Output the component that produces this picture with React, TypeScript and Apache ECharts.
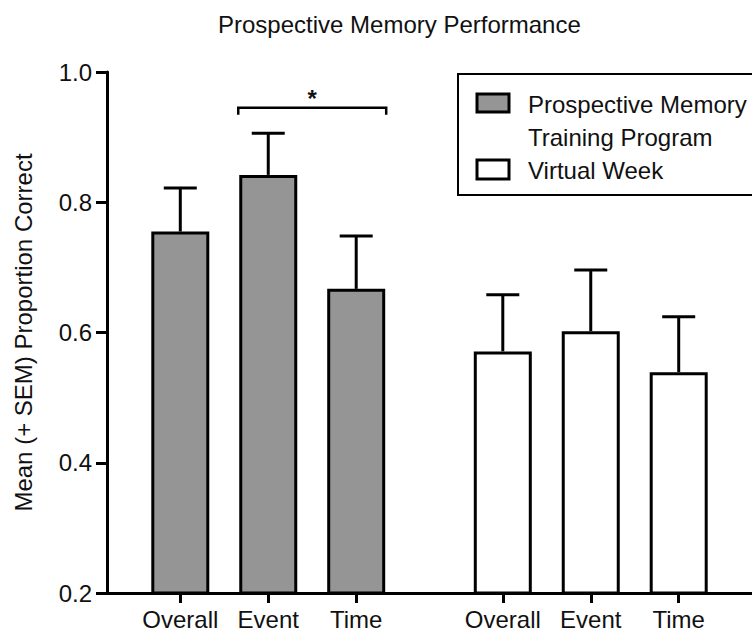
import React, { useEffect, useRef } from 'react';
import * as echarts from 'echarts';

// ---- data ----
const conditionLabels = ['Overall', 'Event', 'Time'];
const trainingMeans = [0.755, 0.842, 0.667];
const trainingSEM = [0.067, 0.064, 0.081];
const virtualMeans = [0.571, 0.602, 0.539];
const virtualSEM = [0.087, 0.094, 0.085];
const seriesNames = ['Prospective Memory\nTraining Program', 'Virtual Week'];
const yMin = 0.2;
const yMax = 1.0;
const yStep = 0.2;
const titleText = 'Prospective Memory Performance';
const yAxisTitle = 'Mean (+ SEM) Proportion Correct';
// significance bracket: between Event and Time of the training program
const sigFrom = 1;
const sigTo = 2;
const sigLevel = 0.945;
const sigMark = '*';

// ---- layout (category slots on the x axis) ----
const slotCount = 22;
const trainingSlots = [2, 5, 8];
const virtualSlots = [13, 16, 19];

const FONT = '"Liberation Sans", Arial, Helvetica, sans-serif';
const BAR_W = 58;
const GRAY = '#959595';

export default function App() {
  const ref = useRef<HTMLDivElement>(null);

  useEffect(() => {
    if (!ref.current) return;
    const chart = echarts.init(ref.current, null, { renderer: 'svg' });

    const categories: string[] = Array.from({ length: slotCount }, () => '');
    trainingSlots.forEach((s, i) => (categories[s] = conditionLabels[i]));
    virtualSlots.forEach((s, i) => (categories[s] = conditionLabels[i]));

    const trainingData: (number | null)[] = Array.from({ length: slotCount }, () => null);
    trainingSlots.forEach((s, i) => (trainingData[s] = trainingMeans[i]));
    const virtualData: (number | null)[] = Array.from({ length: slotCount }, () => null);
    virtualSlots.forEach((s, i) => (virtualData[s] = virtualMeans[i]));

    const errData = [
      ...trainingSlots.map((s, i) => [s, trainingMeans[i], trainingMeans[i] + trainingSEM[i]]),
      ...virtualSlots.map((s, i) => [s, virtualMeans[i], virtualMeans[i] + virtualSEM[i]]),
    ];

    const bracketData = [[trainingSlots[sigFrom], trainingSlots[sigTo], sigLevel]];

    const legendLines0 = seriesNames[0].split('\n');
    const legendText = (text: string, y: number) => ({
      type: 'text',
      x: 528,
      y,
      style: {
        text,
        fontFamily: FONT,
        fontSize: 24,
        fill: '#111',
        verticalAlign: 'middle',
      },
      z: 11,
    });

    const option: any = {
      animation: false,
      backgroundColor: '#fff',
      textStyle: { fontFamily: FONT },
      title: {
        text: titleText,
        left: 213,
        top: 7,
        textStyle: { fontFamily: FONT, fontSize: 24, fontWeight: 'normal', color: '#111' },
      },
      grid: { left: 107, right: -8, top: 72, bottom: 44, containLabel: false },
      xAxis: {
        type: 'category',
        data: categories,
        boundaryGap: true,
        axisLine: { show: true, lineStyle: { color: '#000', width: 3 } },
        axisTick: {
          show: true,
          alignWithLabel: true,
          length: 10,
          interval: (_i: number, v: string) => v !== '',
          lineStyle: { color: '#000', width: 3 },
        },
        axisLabel: {
          interval: 0,
          margin: 14,
          fontFamily: FONT,
          fontSize: 24,
          color: '#111',
        },
        splitLine: { show: false },
      },
      yAxis: {
        type: 'value',
        min: yMin,
        max: yMax,
        interval: yStep,
        name: yAxisTitle,
        nameLocation: 'middle',
        nameRotate: 90,
        nameGap: 72,
        nameTextStyle: { fontFamily: FONT, fontSize: 24, color: '#111' },
        axisLine: { show: true, lineStyle: { color: '#000', width: 3 } },
        axisTick: { show: true, inside: false, length: 11, lineStyle: { color: '#000', width: 3 } },
        axisLabel: {
          margin: 15,
          fontFamily: FONT,
          fontSize: 24,
          color: '#111',
          formatter: (v: number) => v.toFixed(1),
        },
        splitLine: { show: false },
      },
      series: [
        {
          name: seriesNames[0],
          type: 'bar',
          data: trainingData,
          barWidth: BAR_W,
          barGap: '-100%',
          itemStyle: { color: GRAY, borderColor: '#000', borderWidth: 3 },
          z: 2,
        },
        {
          name: seriesNames[1],
          type: 'bar',
          data: virtualData,
          barWidth: BAR_W,
          barGap: '-100%',
          itemStyle: { color: '#fff', borderColor: '#000', borderWidth: 3 },
          z: 2,
        },
        {
          type: 'custom',
          name: 'SEM',
          data: errData,
          encode: { x: 0, y: 2 },
          clip: false,
          z: 1,
          renderItem: (_p: any, api: any) => {
            const base = api.coord([api.value(0), api.value(1)]);
            const top = api.coord([api.value(0), api.value(2)]);
            const half = 16.5;
            return {
              type: 'group',
              children: [
                {
                  type: 'line',
                  shape: { x1: base[0], y1: base[1], x2: top[0], y2: top[1] },
                  style: { stroke: '#000', lineWidth: 3 },
                },
                {
                  type: 'line',
                  shape: { x1: top[0] - half, y1: top[1], x2: top[0] + half, y2: top[1] },
                  style: { stroke: '#000', lineWidth: 3 },
                },
              ],
            };
          },
        },
        {
          type: 'custom',
          name: 'significance',
          data: bracketData,
          encode: { x: 0, y: 2 },
          clip: false,
          renderItem: (_p: any, api: any) => {
            const a = api.coord([api.value(0), api.value(2)]);
            const b = api.coord([api.value(1), api.value(2)]);
            const half = BAR_W / 2 + 1;
            const drop = 7;
            const x1 = a[0] - half;
            const x2 = b[0] + half;
            return {
              type: 'group',
              children: [
                {
                  type: 'polyline',
                  shape: {
                    points: [
                      [x1, a[1] + drop],
                      [x1, a[1]],
                      [x2, b[1]],
                      [x2, b[1] + drop],
                    ],
                  },
                  style: { stroke: '#000', lineWidth: 2.5, fill: 'none' },
                },
                {
                  type: 'text',
                  x: (x1 + x2) / 2,
                  y: a[1] + 3,
                  style: {
                    text: sigMark,
                    fontFamily: FONT,
                    fontSize: 24,
                    fontWeight: 'bold',
                    fill: '#111',
                    align: 'center',
                    verticalAlign: 'bottom',
                  },
                },
              ],
            };
          },
        },
      ],
      graphic: [
        {
          type: 'rect',
          shape: { x: 458, y: 74, width: 320, height: 121 },
          style: { fill: '#fff', stroke: '#000', lineWidth: 2 },
          z: 10,
        },
        {
          type: 'rect',
          shape: { x: 477, y: 94, width: 32, height: 18 },
          style: { fill: GRAY, stroke: '#000', lineWidth: 3 },
          z: 11,
        },
        legendText(legendLines0[0], 104),
        legendText(legendLines0[1], 137),
        {
          type: 'rect',
          shape: { x: 477, y: 160, width: 32, height: 19 },
          style: { fill: '#fff', stroke: '#000', lineWidth: 3 },
          z: 11,
        },
        legendText(seriesNames[1], 170),
      ],
    };
    chart.setOption(option);
    return () => chart.dispose();
  }, []);

  return (
    <div
      ref={ref}
      style={{ position: 'fixed', left: 0, top: 0, width: 752, height: 637, background: '#fff' }}
    />
  );
}
